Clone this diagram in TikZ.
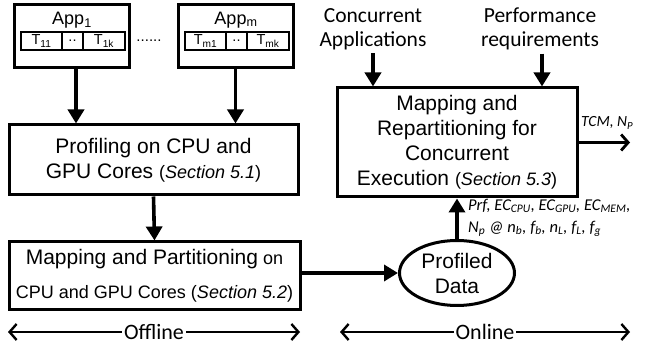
\documentclass[tikz,border=0pt]{standalone}
\usepackage{fontspec}
\setmainfont{Liberation Sans}
\newfontfamily\calfont{Carlito}
\usetikzlibrary{arrows.meta,shapes.geometric}

\begin{document}
\begin{tikzpicture}[x=1pt,y=-1pt,
  box/.style={draw, line width=3pt, inner sep=0pt, align=center},
  cell/.style={draw, line width=2pt, inner sep=0pt, minimum height=18pt, font=\fontsize{14.5}{16}\selectfont},
  flow/.style={line width=3.6pt, -{Triangle[length=14pt,width=16pt]}},
  outflow/.style={line width=2.8pt, -{Straight Barb[length=7pt,width=16pt,line width=2.8pt]}},
  span/.style={line width=2.4pt, {Straight Barb[length=7pt,width=16pt]}-{Straight Barb[length=7pt,width=16pt]}},
  big/.style={font=\fontsize{21}{25}\selectfont},
  cal/.style={font=\calfont\fontsize{21.5}{24}\selectfont, align=center},
  note/.style={font=\calfont\itshape\fontsize{16.5}{22}\selectfont, align=left, inner sep=0pt, anchor=west},
]
\useasboundingbox (0,0) rectangle (646,344);

% application boxes with their task rows
\node[box, minimum width=115pt, minimum height=63pt] (app1) at (71.5,36.5) {};
\node[font=\fontsize{18}{20}\selectfont] at (72,20) {App\textsubscript{1}};
\node[cell, minimum width=41pt] (t11) at (41.5,41) {T\textsubscript{11}};
\node[cell, minimum width=21pt] (t1d) at (72.5,41) {..};
\node[cell, minimum width=42pt] (t1k) at (104,41) {T\textsubscript{1k}};

\node[font=\fontsize{15}{16}\selectfont] (dots) at (149,41) {......};

\node[box, minimum width=115pt, minimum height=63pt] (appm) at (235.5,36.5) {};
\node[font=\fontsize{18}{20}\selectfont] at (236,20) {App\textsubscript{m}};
\node[cell, minimum width=41pt] (tm1) at (205.5,41) {T\textsubscript{m1}};
\node[cell, minimum width=21pt] (tmd) at (236.5,41) {..};
\node[cell, minimum width=42pt] (tmk) at (268,41) {T\textsubscript{mk}};

% offline stages
\node[box, big, minimum width=289pt, minimum height=70pt] (prof) at (153.5,160)
  {Profiling on CPU and\\GPU Cores {\fontsize{18}{20}\selectfont(\textit{Section 5.1})}};
\node[box, minimum width=291pt, minimum height=68pt, font=\fontsize{18}{34}\selectfont] (map) at (154.5,276)
  {{\fontsize{21}{24}\selectfont Mapping and Partitioning} on\\CPU and GPU Cores (\textit{Section 5.2})};

% online stage
\node[box, big, minimum width=240pt, minimum height=109pt] (remap) at (457,142.5)
  {Mapping and\\Repartitioning for\\Concurrent\\Execution {\fontsize{18}{20}\selectfont(\textit{Section 5.3})}};
\node[draw, ellipse, line width=3pt, minimum width=115pt, minimum height=65pt, inner sep=0pt,
      big, align=center] (data) at (457,273) {Profiled\\Data};

\node[cal] (conc) at (373,29) {Concurrent\\Applications};
\node[cal] (perf) at (540,29) {Performance\\requirements};

\node[note] (prf) at (468,218)
  {Prf, EC\textsubscript{CPU}, EC\textsubscript{GPU}, EC\textsubscript{MEM},\\
   N\textsubscript{p} @ n\textsubscript{b}, f\textsubscript{b}, n\textsubscript{L}, f\textsubscript{L}, f\textsubscript{g}};
\node[note, font=\calfont\itshape\fontsize{15.5}{20}\selectfont] (tcm) at (581,123) {TCM, N\textsubscript{P}};

% connectors
\draw[flow] ([xshift=4.5pt]app1.south) -- ([xshift=4.5pt]app1.south |- prof.north);
\draw[flow] (appm.south) -- (appm.south |- prof.north);
\draw[flow] (prof.south) -- (map.north);
\draw[flow] (map.east |- data.west) -- (data.west);
\draw[flow] (data.north) -- (remap.south);
\draw[flow] (conc.south) -- (conc.south |- remap.north);
\draw[flow] ([xshift=2pt]perf.south) -- ([xshift=2pt]perf.south |- remap.north);
\coordinate (out) at (630,142.5);
\draw[outflow] (remap.east) -- (out);

% phase spans
\coordinate (offL) at (8,332);
\coordinate (offR) at (300,332);
\coordinate (onL) at (340,332);
\coordinate (onR) at (630,332);
\draw[span] (offL) -- (offR) node[midway, fill=white, cal, font=\calfont\fontsize{22}{24}\selectfont, inner sep=2pt] (offline) {Offline};
\draw[span] (onL) -- (onR) node[midway, fill=white, cal, font=\calfont\fontsize{22}{24}\selectfont, inner sep=2pt] (online) {Online};
\end{tikzpicture}
\end{document}
